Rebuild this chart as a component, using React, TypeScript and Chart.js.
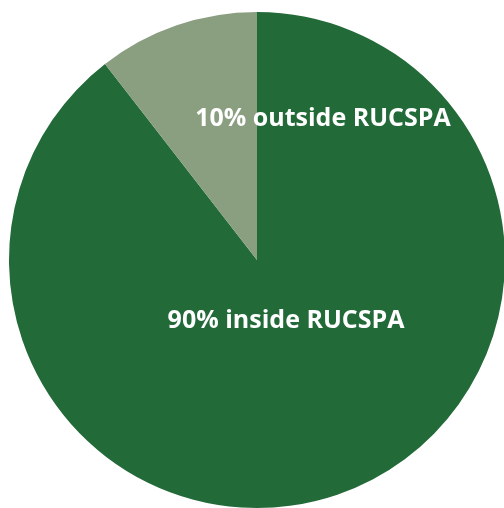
import React, { useEffect, useRef } from "react";
import { Chart, registerables } from "chart.js";

Chart.register(...registerables);

const categories = ["inside RUCSPA", "outside RUCSPA"];
const shares = [89.5, 10.5];
const sliceColors = ["#236a39", "#8a9e80"];
const labelTexts = ["90% inside RUCSPA", "10% outside RUCSPA"];
// label anchor offsets relative to pie centre, as fraction of radius
const labelOffsets = [
  [0.117, 0.242],
  [0.266, -0.573],
];

const labelPlugin = {
  id: "sliceLabels",
  afterDatasetsDraw(chart: any) {
    const meta = chart.getDatasetMeta(0);
    const arc = meta.data[0];
    if (!arc) return;
    const { x, y, outerRadius } = arc.getProps(["x", "y", "outerRadius"], true);
    const ctx = chart.ctx;
    ctx.save();
    ctx.fillStyle = "#ffffff";
    ctx.font = "bold 25px 'Open Sans', sans-serif";
    ctx.textAlign = "center";
    ctx.textBaseline = "middle";
    labelTexts.forEach((t, i) => {
      const [fx, fy] = labelOffsets[i];
      ctx.fillText(t, x + fx * outerRadius, y + fy * outerRadius + 1);
    });
    ctx.restore();
  },
};

export default function App() {
  const ref = useRef<HTMLCanvasElement>(null);
  useEffect(() => {
    if (!ref.current) return;
    const chart = new Chart(ref.current, {
      type: "pie",
      data: {
        labels: categories,
        datasets: [
          {
            data: shares,
            backgroundColor: sliceColors,
            borderWidth: 0,
          },
        ],
      },
      options: {
        responsive: false,
        animation: false,
        layout: { padding: { left: 9, top: 12, right: 15, bottom: 12 } },
        plugins: {
          legend: { display: false },
          tooltip: { enabled: false },
        },
      },
      plugins: [labelPlugin],
    });
    return () => chart.destroy();
  }, []);
  return (
    <div
      style={{
        position: "fixed",
        left: 0,
        top: 0,
        width: 504,
        height: 508,
        overflow: "hidden",
        background: "#fff",
      }}
    >
      <canvas ref={ref} width={520} height={520} style={{ width: 520, height: 520 }} />
    </div>
  );
}
